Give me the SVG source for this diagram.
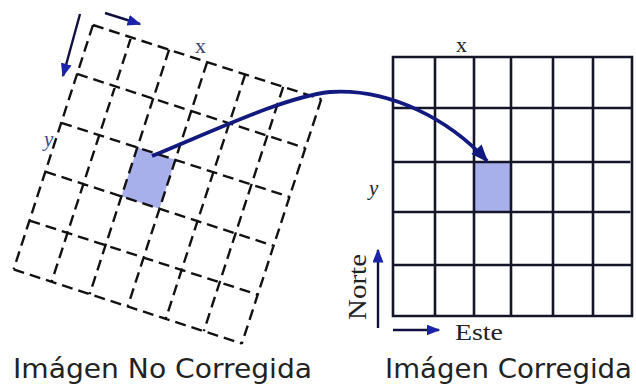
<svg xmlns="http://www.w3.org/2000/svg" width="636" height="389" viewBox="0 0 636 389">
<style>
.dash{stroke:#111;stroke-width:2.4;stroke-dasharray:11 6;fill:none}
.solid{stroke:#15152a;stroke-width:2.6;fill:none;stroke-linecap:square}
.cell{fill:#a7b0ea}
.sm{stroke:#101040;stroke-width:2.4;fill:none}
.lbl{font-family:"DejaVu Sans","Liberation Sans",sans-serif;font-size:27px;fill:#222}
.ser{font-family:"Liberation Serif","Times New Roman",serif;fill:#222}
</style>
<defs>
<marker id="ah" viewBox="0 0 10 8" refX="9" refY="4" markerWidth="14" markerHeight="11" markerUnits="userSpaceOnUse" orient="auto">
<path d="M0,0 L10,4 L0,8 Z" fill="#1b24a8"/>
</marker>
<marker id="big" viewBox="0 0 10 8" refX="9" refY="4" markerWidth="18" markerHeight="14" markerUnits="userSpaceOnUse" orient="auto">
<path d="M0,0 L10,4 L0,8 Z" fill="#121a80"/>
</marker>
</defs>

<g id="left-grid" transform="translate(93,25) rotate(18)">
<rect class="cell" x="80" y="102.8" width="40" height="51.4"/>
<path class="dash" d="M0,0V257M40,0V257M80,0V257M120,0V257M160,0V257M200,0V257M240,0V257M0,0H240M0,51.4H240M0,102.8H240M0,154.2H240M0,205.6H240M0,257H240"/>
</g>
<g id="left-axes">
<line class="sm" x1="105" y1="13" x2="140" y2="24" marker-end="url(#ah)"/>
<line class="sm" x1="80" y1="14" x2="63" y2="76" marker-end="url(#ah)"/>
<text class="ser" x="195" y="53" font-size="22" style="fill:#3a4470">x</text>
<text class="ser" x="44" y="146" font-size="21" font-style="italic" style="fill:#3a4a8a">y</text>
</g>

<g id="right-grid">
<rect class="cell" x="474" y="162" width="37" height="50"/>
<path class="solid" d="M393,57V316M435,57V316M474,57V316M511,57V316M553,57V316M593,57V316M632,57V316M393,57H632M393,108H632M393,162H629M393,212H629M393,265H632M393,316H632"/>
<text class="ser" x="456" y="52" font-size="22">x</text>
<text class="ser" x="369" y="195" font-size="21" font-style="italic">y</text>
</g>

<g id="compass">
<line class="sm" x1="378" y1="328" x2="378" y2="250" marker-end="url(#ah)"/>
<line class="sm" x1="393" y1="330" x2="439" y2="330" marker-end="url(#ah)"/>
<text class="ser" transform="translate(366,320) rotate(-90)" font-size="26" textLength="66" lengthAdjust="spacingAndGlyphs">Norte</text>
<text class="ser" x="455" y="340" font-size="23" textLength="48" lengthAdjust="spacingAndGlyphs">Este</text>
</g>

<g id="connectors">
<path d="M152,156 C220,128 285,97 330,92 C390,88 450,120 487,161" fill="none" stroke="#121a80" stroke-width="3.8" marker-end="url(#big)"/>
</g>

<g id="captions">
<text class="lbl" x="13" y="378" textLength="299" lengthAdjust="spacingAndGlyphs">Imágen No Corregida</text>
<text class="lbl" x="385" y="378" textLength="247" lengthAdjust="spacingAndGlyphs">Imágen Corregida</text>
</g>
</svg>
